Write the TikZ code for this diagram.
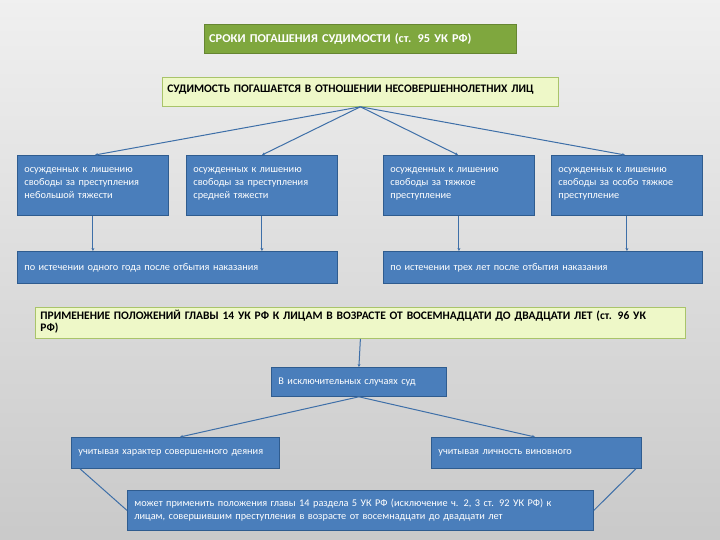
\documentclass[tikz,border=0pt]{standalone}
\usepackage{fontspec}
\setmainfont{Carlito}
\usetikzlibrary{arrows.meta}
\definecolor{bbl}{HTML}{4A7EBB}
\definecolor{bbd}{HTML}{2F5C8F}
\definecolor{ylw}{HTML}{EEF8C8}
\definecolor{ylb}{HTML}{A9C46A}
\definecolor{grn}{HTML}{7FA73E}
\definecolor{lnc}{HTML}{3E6FA8}
\tikzset{
  bluebox/.style={draw=bbd,fill=bbl,line width=0.8pt,text=white,font=\fontsize{10.3}{13}\selectfont,align=left,inner xsep=7pt,inner ysep=0pt},
  ybox/.style={draw=ylb,fill=ylw,line width=0.8pt,font=\bfseries\fontsize{11.5}{15}\selectfont,align=left,inner xsep=5pt,inner ysep=0pt},
  conn/.style={draw=lnc,line width=1pt},
  carr/.style={conn,-{Stealth[length=3pt,width=3pt]}}
}
\newcommand\topbx[3]{\parbox[c][#1][t]{\linewidth}{\vspace*{#2}#3}}
\begin{document}
\begin{tikzpicture}[x=1pt,y=-1pt]
\shade[top color=gray!12,bottom color=gray!42] (0,0) rectangle (720,540);
\useasboundingbox (0,0) rectangle (720,540);
\node[fill=grn,draw=grn!80!black,anchor=north west,minimum width=312pt,minimum height=29pt,text width=302pt,inner xsep=5pt,inner ysep=0pt,text=white,font=\bfseries\fontsize{12}{14}\selectfont,align=left] (t) at (204,24) {\scalebox{1.03}[1]{СРОКИ ПОГАШЕНИЯ СУДИМОСТИ (ст. 95 УК РФ)}};
\node[ybox,minimum width=396pt,minimum height=29pt,anchor=north west,text width=386pt] (y1) at (162,77) {\topbx{27pt}{7pt}{СУДИМОСТЬ ПОГАШАЕТСЯ В ОТНОШЕНИИ НЕСОВЕРШЕННОЛЕТНИХ ЛИЦ}};
\foreach \n/\xx/\tx in {a/17/{осужденных к лишению\\свободы за преступления\\небольшой тяжести},
  b/186/{осужденных к лишению\\свободы за преступления\\средней тяжести},
  c/383/{осужденных к лишению\\свободы за тяжкое\\преступление},
  d/551/{осужденных к лишению\\свободы за особо тяжкое\\преступление}}{
  \node[bluebox,anchor=north west,minimum width=151pt,minimum height=60pt,text width=137pt] (\n) at (\xx,155) {\topbx{60pt}{12pt}{\tx}};
}
\node[bluebox,anchor=north west,minimum width=320pt,minimum height=32pt,text width=306pt] (e) at (17,251) {по истечении одного года после отбытия наказания};
\node[bluebox,anchor=north west,minimum width=319pt,minimum height=32pt,text width=305pt] (f) at (383,251) {по истечении трех лет после отбытия наказания};
\node[ybox,anchor=north west,minimum width=650pt,minimum height=31pt,text width=640pt,inner xsep=3pt] (y2) at (35,307) {\topbx{31pt}{3pt}{ПРИМЕНЕНИЕ ПОЛОЖЕНИЙ ГЛАВЫ 14 УК РФ К ЛИЦАМ В ВОЗРАСТЕ ОТ ВОСЕМНАДЦАТИ ДО ДВАДЦАТИ ЛЕТ (ст. 96 УК\\[-3pt]РФ)}};
\node[bluebox,anchor=north west,minimum width=175pt,minimum height=29pt,text width=161pt] (m) at (271,367) {В исключительных случаях суд};
\node[bluebox,anchor=north west,minimum width=208pt,minimum height=31pt,text width=194pt] (l) at (71,437) {учитывая характер совершенного деяния};
\node[bluebox,anchor=north west,minimum width=210pt,minimum height=31pt,text width=196pt] (r) at (431,437) {учитывая личность виновного};
\node[bluebox,anchor=north west,minimum width=466pt,minimum height=40pt,text width=452pt] (z) at (127,490) {может применить положения главы 14 раздела 5 УК РФ (исключение ч. 2, 3 ст. 92 УК РФ) к\\лицам, совершившим преступления в возрасте от восемнадцати до двадцати лет};
\foreach \n/\xx in {a/95,b/262,c/458,d/625}{
  \draw[carr] (y1.south) -- (\xx,155);
}
\draw[carr] (a.south) -- (a.south |- e.north);
\draw[carr] (b.south) -- (b.south |- e.north);
\draw[carr] (c.south) -- (c.south |- f.north);
\draw[carr] (d.south) -- (d.south |- f.north);
\draw[carr] (y2.south) -- (m.north);
\draw[carr] (m.south) -- (180,437);
\draw[carr] (m.south) -- (535,437);
\draw[conn] (l.south west) ++(9,0) -- (z.west);
\draw[conn] (r.south east) ++(-6,0) -- (z.east);
\end{tikzpicture}
\end{document}
